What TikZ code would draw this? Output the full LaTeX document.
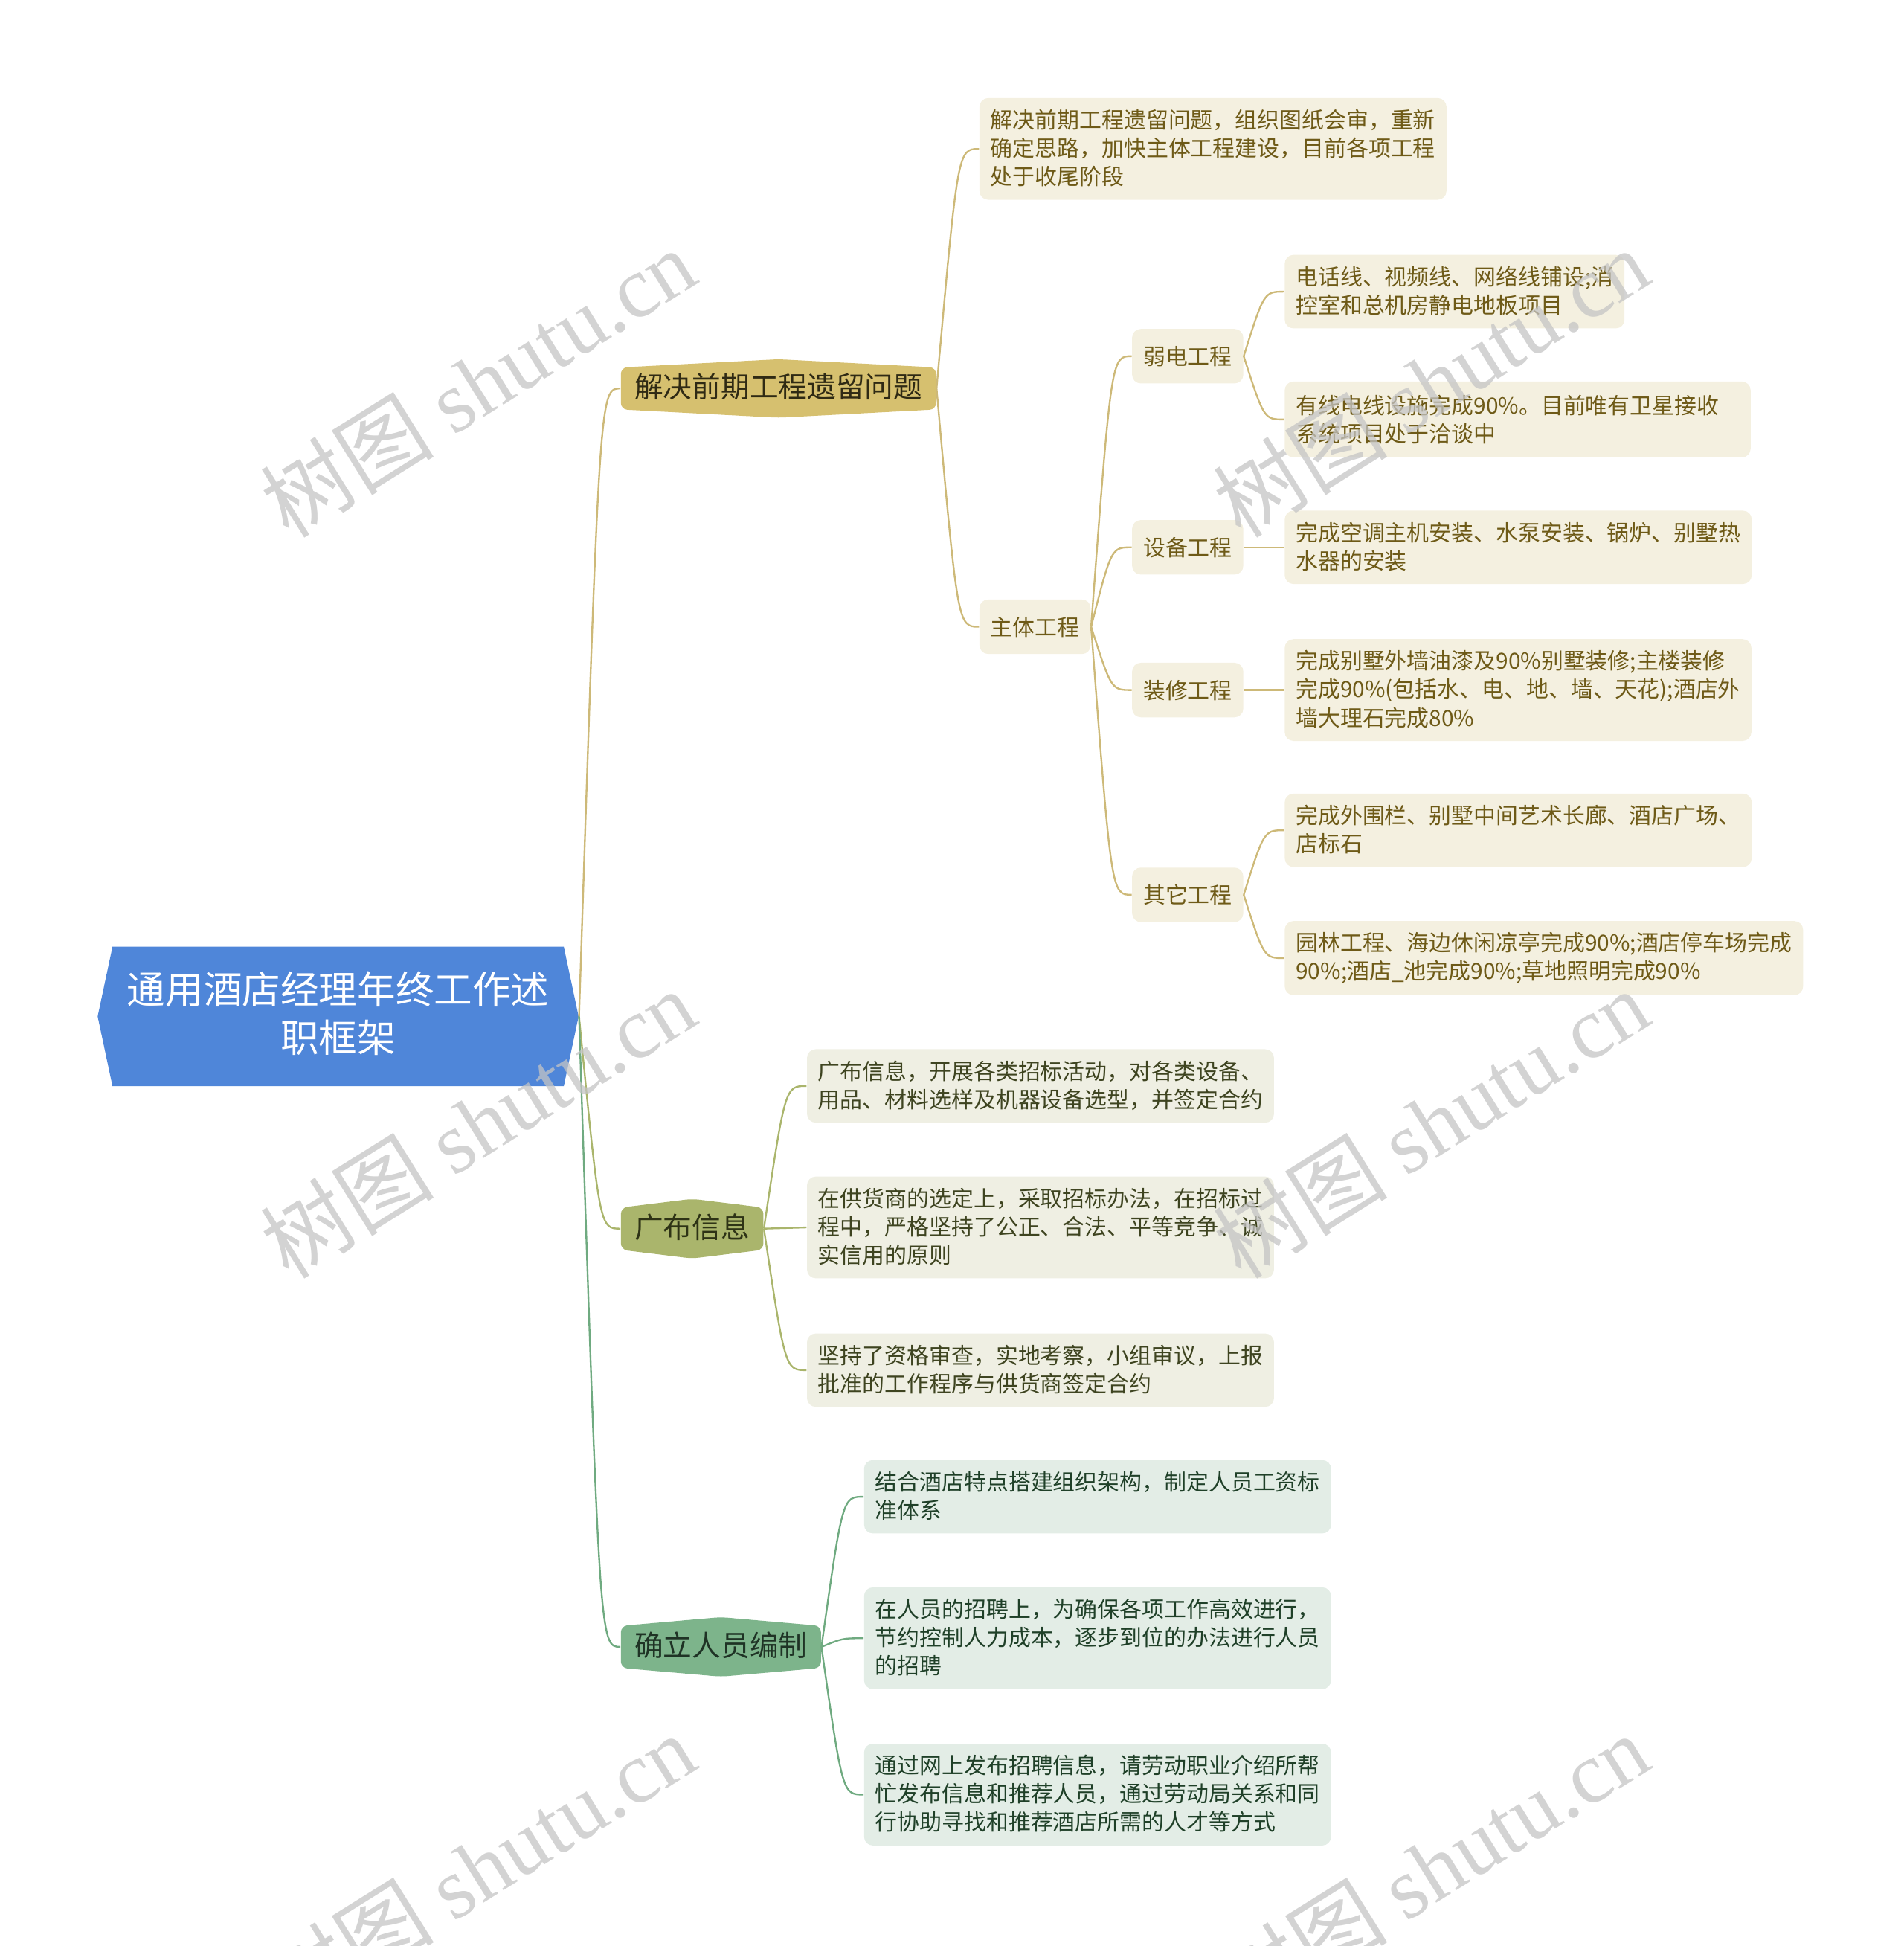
\documentclass[tikz,border=0pt]{standalone}
\usepackage{fontspec}
\setmainfont{Noto Sans CJK SC}
\newfontfamily\wmlatin{Liberation Serif}
\usetikzlibrary{calc,shapes.symbols}
\definecolor{rootblue}{HTML}{4F86D9}
\definecolor{goldfill}{HTML}{D6C06F}
\definecolor{goldline}{HTML}{CDB978}
\definecolor{goldleaf}{HTML}{F4F0E0}
\definecolor{goldtext}{HTML}{6E5A17}
\definecolor{golddark}{HTML}{2F2A14}
\definecolor{olivefill}{HTML}{AAB56C}
\definecolor{oliveleaf}{HTML}{EFEFE3}
\definecolor{olivetext}{HTML}{3E4420}
\definecolor{olivedark}{HTML}{2E3316}
\definecolor{greenfill}{HTML}{7DB48B}
\definecolor{greenline}{HTML}{6FAA80}
\definecolor{greenleaf}{HTML}{E3EDE6}
\definecolor{greentext}{HTML}{1F4028}
\definecolor{greendark}{HTML}{1F3325}
\definecolor{wmgray}{HTML}{C4C4C4}
\begin{document}
\begin{tikzpicture}[x=0.02cm, y=-0.02cm,
  every node/.style={font=\fontsize{10.2}{13}\selectfont},
  root/.style={signal, signal to=west and east, signal pointer angle=156, fill=rootblue, text=white, align=center, font=\fontsize{17.6}{22}\selectfont, minimum height=64pt, inner xsep=6.7pt, execute at begin node=\rule[-4.3pt]{0pt}{17.7pt}, execute at end node=\rule[-4.3pt]{0pt}{17.7pt}},
  branch/.style={signal, signal to=north and south, signal pointer angle=#1, rounded corners=3pt, font=\fontsize{13.2}{16}\selectfont, inner xsep=6.3pt, inner ysep=2.8pt, anchor=west, execute at begin node=\rule[-2.5pt]{0pt}{13.5pt}},
  leaf/.style={rounded corners=4pt, align=left, inner xsep=5.1pt, inner ysep=5.2pt, anchor=west, execute at begin node=\rule[-1.6pt]{0pt}{11.4pt}, execute at end node=\rule[-1.6pt]{0pt}{11.4pt}},
  sub/.style={leaf, minimum height=25pt},
  mmline/.style={line width=0.8pt, to path={.. controls ($(\tikztotarget)!.5!(\tikztotarget -| \tikztostart)$) .. (\tikztotarget)}},
  goldl/.style={mmline, draw=goldline},
  olivel/.style={mmline, draw=olivefill},
  greenl/.style={mmline, draw=greenline},
  wm/.style={text=wmgray, opacity=0.75, rotate=32, font=\fontsize{40}{40}\selectfont}
]
\useasboundingbox (0,0) rectangle (1534,1568);
% root and main branches
\node[root] (mid0) at (272.5,819){通用酒店经理年终工作述\\职框架};
\node[branch=174, fill=goldfill, text=golddark] (mid1) at (500,313){解决前期工程遗留问题};
\node[branch=166, fill=olivefill, text=olivedark] (mid2) at (500,990){广布信息};
\node[branch=170, fill=greenfill, text=greendark] (mid3) at (500,1327){确立人员编制};
\draw[goldl](mid0.east) to (mid1.west);
\draw[olivel](mid0.east) to (mid2.west);
\draw[greenl](mid0.east) to (mid3.west);
% first branch
\node[leaf, fill=goldleaf, text=goldtext] (mid4) at (789,120){解决前期工程遗留问题，组织图纸会审，重新\\确定思路，加快主体工程建设，目前各项工程\\处于收尾阶段};
\node[sub, fill=goldleaf, text=goldtext] (mid5) at (789,505){主体工程};
\draw[goldl](mid1.east) to (mid4.west);
\draw[goldl](mid1.east) to (mid5.west);
\node[sub, fill=goldleaf, text=goldtext] (mid6) at (912,287){弱电工程};
\node[sub, fill=goldleaf, text=goldtext] (mid7) at (912,441){设备工程};
\node[sub, fill=goldleaf, text=goldtext] (mid8) at (912,556){装修工程};
\node[sub, fill=goldleaf, text=goldtext] (mid9) at (912,721){其它工程};
\draw[goldl](mid5.east) to (mid6.west);
\draw[goldl](mid5.east) to (mid7.west);
\draw[goldl](mid5.east) to (mid8.west);
\draw[goldl](mid5.east) to (mid9.west);
\node[leaf, fill=goldleaf, text=goldtext] (mid10) at (1035,235){电话线、视频线、网络线铺设;消\\控室和总机房静电地板项目};
\node[leaf, fill=goldleaf, text=goldtext, text width=203.5pt] (mid11) at (1035,338){有线电线设施完成90\%。目前唯有卫星接收\\系统项目处于洽谈中};
\node[leaf, fill=goldleaf, text=goldtext] (mid12) at (1035,441){完成空调主机安装、水泵安装、锅炉、别墅热\\水器的安装};
\node[leaf, fill=goldleaf, text=goldtext] (mid13) at (1035,556){完成别墅外墙油漆及90\%别墅装修;主楼装修\\完成90\%(包括水、电、地、墙、天花);酒店外\\墙大理石完成80\%};
\node[leaf, fill=goldleaf, text=goldtext] (mid14) at (1035,669){完成外围栏、别墅中间艺术长廊、酒店广场、\\店标石};
\node[leaf, fill=goldleaf, text=goldtext] (mid15) at (1035,772){园林工程、海边休闲凉亭完成90\%;酒店停车场完成\\90\%;酒店\_池完成90\%;草地照明完成90\%};
\draw[goldl](mid6.east) to (mid10.west);
\draw[goldl](mid6.east) to (mid11.west);
\draw[goldl](mid7.east) to (mid12.west);
\draw[goldl](mid8.east) to (mid13.west);
\draw[goldl](mid9.east) to (mid14.west);
\draw[goldl](mid9.east) to (mid15.west);
% second branch
\node[leaf, fill=oliveleaf, text=olivetext] (mid16) at (650,875){广布信息，开展各类招标活动，对各类设备、\\用品、材料选样及机器设备选型，并签定合约};
\node[leaf, fill=oliveleaf, text=olivetext] (mid17) at (650,989){在供货商的选定上，采取招标办法，在招标过\\程中，严格坚持了公正、合法、平等竞争、诚\\实信用的原则};
\node[leaf, fill=oliveleaf, text=olivetext] (mid18) at (650,1104){坚持了资格审查，实地考察，小组审议，上报\\批准的工作程序与供货商签定合约};
\draw[olivel](mid2.east) to (mid16.west);
\draw[olivel](mid2.east) to (mid17.west);
\draw[olivel](mid2.east) to (mid18.west);
% third branch
\node[leaf, fill=greenleaf, text=greentext] (mid19) at (696,1206){结合酒店特点搭建组织架构，制定人员工资标\\准体系};
\node[leaf, fill=greenleaf, text=greentext] (mid20) at (696,1320){在人员的招聘上，为确保各项工作高效进行，\\节约控制人力成本，逐步到位的办法进行人员\\的招聘};
\node[leaf, fill=greenleaf, text=greentext] (mid21) at (696,1446){通过网上发布招聘信息，请劳动职业介绍所帮\\忙发布信息和推荐人员，通过劳动局关系和同\\行协助寻找和推荐酒店所需的人才等方式};
\draw[greenl](mid3.east) to (mid19.west);
\draw[greenl](mid3.east) to (mid20.west);
\draw[greenl](mid3.east) to (mid21.west);
% watermarks
\node[wm] (wm1) at (385,308){树图 {\wmlatin shutu.cn}};
\node[wm] (wm2) at (1153,308){树图 {\wmlatin shutu.cn}};
\node[wm] (wm3) at (385,905){树图 {\wmlatin shutu.cn}};
\node[wm] (wm4) at (1153,905){树图 {\wmlatin shutu.cn}};
\node[wm] (wm5) at (385,1505){树图 {\wmlatin shutu.cn}};
\node[wm] (wm6) at (1153,1505){树图 {\wmlatin shutu.cn}};
\end{tikzpicture}
\end{document}
